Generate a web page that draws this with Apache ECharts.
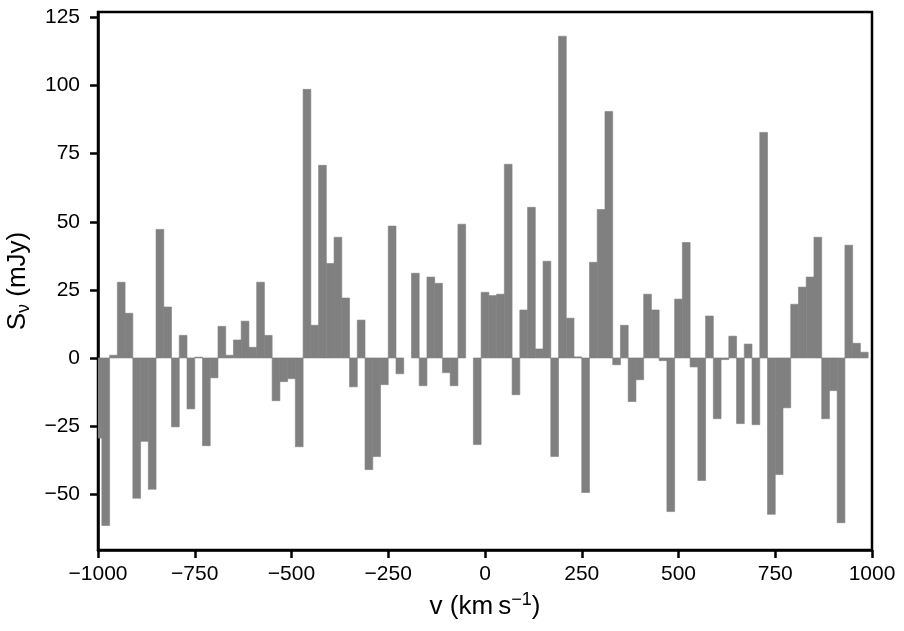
<!DOCTYPE html>
<html>
<head>
<meta charset="utf-8">
<script src="https://cdn.jsdelivr.net/npm/echarts@6/dist/echarts.min.js"></script>
<style>
html,body{margin:0;padding:0;background:#fff;}
#chart{width:904px;height:631px;}
</style>
</head>
<body>
<div id="chart"></div>
<script>
// Channel centre velocities (km/s), channel width 20 km/s
const velocities = [
  -1000,-980,-960,-940,-920,-900,-880,-860,-840,-820,
  -800,-780,-760,-740,-720,-700,-680,-660,-640,-620,
  -600,-580,-560,-540,-520,-500,-480,-460,-440,-420,
  -400,-380,-360,-340,-320,-300,-280,-260,-240,-220,
  -200,-180,-160,-140,-120,-100,-80,-60,-40,-20,
  0,20,40,60,80,100,120,140,160,180,
  200,220,240,260,280,300,320,340,360,380,
  400,420,440,460,480,500,520,540,560,580,
  600,620,640,660,680,700,720,740,760,780,
  800,820,840,860,880,900,920,940,960,980
];
// Flux density (mJy)
const flux = [
  -29.4,-61.5,1.0,27.8,16.4,-51.5,-30.6,-48.2,47.2,18.7,
  -25.3,8.3,-18.7,0.3,-32.2,-7.3,11.6,1.0,6.6,13.5,
  3.9,27.8,8.3,-15.7,-8.7,-7.6,-32.6,98.6,12.0,70.7,
  34.7,44.3,22.0,-10.6,13.9,-41.0,-36.2,-9.8,48.4,-5.8,
  0,31.1,-10.2,29.7,27.4,-5.4,-10.2,49.1,0,-31.8,
  24.1,22.9,23.4,71.1,-13.5,17.6,55.3,3.3,35.5,-36.2,
  118.1,14.6,0.4,-49.4,35.1,54.5,90.5,-2.5,12.0,-16.0,
  -8.0,23.4,17.6,-1.0,-56.4,21.6,42.4,-3.3,-45.0,15.4,
  -22.3,-0.6,8.0,-24.1,5.1,-24.5,82.8,-57.4,-42.8,-18.3,
  19.7,26.0,29.7,44.3,-22.3,-12.0,-60.5,41.4,5.4,2.1
];
const channelWidth = 20;
const xTicks = [-1000,-750,-500,-250,0,250,500,750,1000];
const yTicks = [-50,-25,0,25,50,75,100,125];

const data = velocities.map((v, i) => [v, flux[i]]);
const fmt = v => String(v).replace('-', '\u2212');
const FONT = "'Liberation Sans', Arial, Helvetica, sans-serif";

const chart = echarts.init(document.getElementById('chart'), null, {renderer: 'canvas'});
chart.setOption({
  animation: false,
  backgroundColor: '#fff',
  grid: {left: 98, right: 32, top: 12, bottom: 81, containLabel: false, outerBoundsMode: 'none',
         show: true, borderColor: '#000', borderWidth: 2.5, backgroundColor: 'transparent'},
  xAxis: {
    type: 'value', min: -1000, max: 1000, interval: 250,
    axisLine: {show: true, onZero: false, lineStyle: {color: '#000', width: 2.5}},
    axisTick: {show: true, inside: false, length: 8, lineStyle: {color: '#000', width: 2.5}, customValues: xTicks},
    axisLabel: {color: '#000', fontSize: 21, fontFamily: FONT, margin: 14, formatter: fmt, customValues: xTicks},
    splitLine: {show: false},
    name: '{a|v (km\u2009s}{sup|\u22121}{a|)}',
    nameLocation: 'middle', nameGap: 41,
    nameTextStyle: {
      color: '#000', fontFamily: FONT,
      rich: {
        a: {fontSize: 26, fontFamily: FONT, color: '#000', lineHeight: 32},
        sup: {fontSize: 18, fontFamily: FONT, color: '#000', verticalAlign: 'top', lineHeight: 16}
      }
    }
  },
  yAxis: {
    type: 'value', min: -70.5, max: 127,
    axisLine: {show: true, onZero: false, lineStyle: {color: '#000', width: 2.5}},
    axisTick: {show: true, inside: false, length: 8, lineStyle: {color: '#000', width: 2.5}, customValues: yTicks},
    axisLabel: {color: '#000', fontSize: 21, fontFamily: FONT, margin: 18, formatter: fmt, customValues: yTicks},
    splitLine: {show: false},
    name: '{a|S}{sub|\u03bd}{a| (mJy)}',
    nameLocation: 'middle', nameGap: 62, nameRotate: 90,
    nameTextStyle: {
      color: '#000', fontFamily: FONT,
      rich: {
        a: {fontSize: 26, fontFamily: FONT, color: '#000', lineHeight: 32},
        sub: {fontSize: 18, fontFamily: FONT, color: '#000', verticalAlign: 'bottom', lineHeight: 18}
      }
    }
  },
  series: [{
    type: 'custom',
    clip: true,
    data: data,
    encode: {x: 0, y: 1},
    renderItem: function (params, api) {
      const v = api.value(0), s = api.value(1);
      const p0 = api.coord([v - channelWidth / 2, 0]);
      const p1 = api.coord([v + channelWidth / 2, s]);
      return {
        type: 'rect',
        shape: {x: p0[0], y: Math.min(p0[1], p1[1]), width: p1[0] - p0[0], height: Math.abs(p1[1] - p0[1])},
        style: {fill: '#808080', stroke: s === 0 ? null : '#808080', lineWidth: s === 0 ? 0 : 0.6}
      };
    }
  }]
});
</script>
</body>
</html>
